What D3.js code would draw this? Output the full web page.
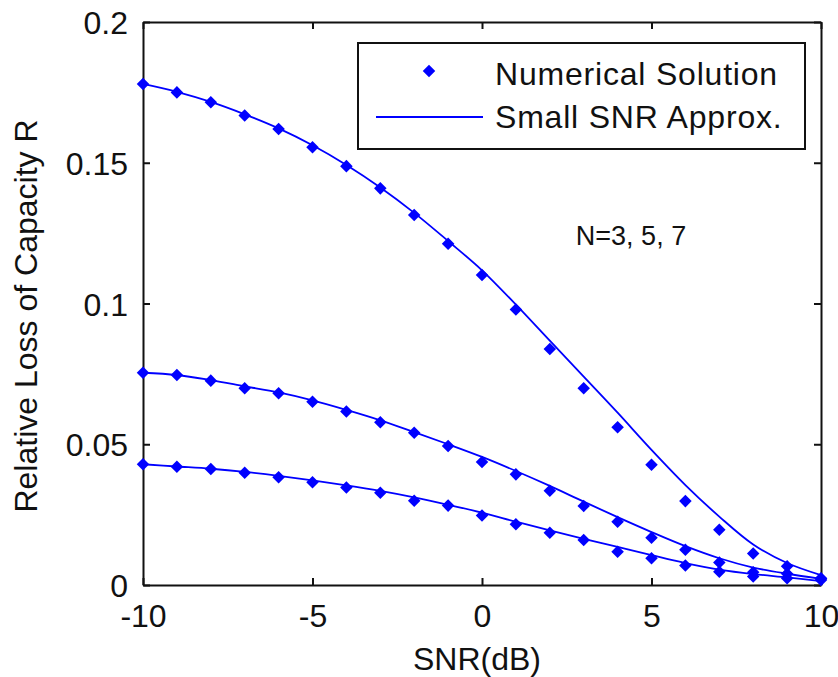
<!DOCTYPE html>
<html>
<head>
<meta charset="utf-8">
<script src="https://cdn.jsdelivr.net/npm/d3@7"></script>
<style>
  html, body { margin: 0; padding: 0; background: #fff; }
  svg { display: block; }
</style>
</head>
<body>
<svg id="chart" width="838" height="677"></svg>
<script>
// ---- data ----
const snr = [-10, -9, -8, -7, -6, -5, -4, -3, -2, -1, 0, 1, 2, 3, 4, 5, 6, 7, 8, 9, 10];

// Numerical solution (markers), N = 7, 5, 3 (top to bottom)
const numericalN7 = [0.178, 0.175, 0.1715, 0.1668, 0.162, 0.1555, 0.1488, 0.1409, 0.1314, 0.1212, 0.1101,
                     0.0979, 0.0838, 0.0699, 0.056, 0.0427, 0.0298, 0.0196, 0.0112, 0.0067, 0.0024];
const numericalN5 = [0.0754, 0.0746, 0.0726, 0.0699, 0.0681, 0.0651, 0.0616, 0.0578, 0.0541, 0.0494, 0.0437,
                     0.0393, 0.0335, 0.0281, 0.0225, 0.0168, 0.0125, 0.0080, 0.0045, 0.0040, 0.0022];
const numericalN3 = [0.0429, 0.042, 0.0412, 0.0399, 0.0383, 0.0365, 0.0346, 0.0328, 0.0299, 0.0282, 0.0247,
                     0.0216, 0.0186, 0.016, 0.0118, 0.0095, 0.0069, 0.0047, 0.003, 0.0024, 0.0018];

// Small SNR approximation (lines)
const approxN7 = [0.178, 0.1752, 0.1716, 0.1672, 0.1622, 0.1562, 0.1492, 0.1412, 0.1322, 0.1222, 0.1118,
                  0.0996, 0.0868, 0.074, 0.0612, 0.048, 0.0355, 0.0243, 0.0144, 0.0078, 0.0035];
const approxN5 = [0.0754, 0.0746, 0.0728, 0.0706, 0.0684, 0.0656, 0.0622, 0.0585, 0.0543, 0.05, 0.0455,
                  0.0405, 0.0352, 0.0296, 0.0241, 0.0188, 0.0138, 0.0095, 0.0062, 0.004, 0.0022];
const approxN3 = [0.0429, 0.0421, 0.0413, 0.0402, 0.0388, 0.0372, 0.0354, 0.0334, 0.0311, 0.0285, 0.0257,
                  0.0225, 0.0194, 0.0164, 0.0135, 0.0106, 0.0078, 0.0055, 0.0039, 0.0027, 0.0014];

const xTicks = [-10, -5, 0, 5, 10];
const yTicks = [0, 0.05, 0.1, 0.15, 0.2];
const legendLabels = ["Numerical Solution", "Small SNR Approx."];
const annotation = "N=3, 5, 7";
const xLabel = "SNR(dB)";
const yLabel = "Relative Loss of Capacity R";

// ---- layout ----
const plotL = 143, plotR = 821, plotT = 22, plotB = 585;
const blue = "#0000FF";
const FONT = '"Liberation Sans", Arial, sans-serif';

const svg = d3.select("#chart");
const x = d3.scaleLinear().domain([-10, 10]).range([plotL, plotR]);
const y = d3.scaleLinear().domain([0, 0.2]).range([plotB, plotT]);

// axes
const fmtY = d => d3.format("~g")(d);
const fmtX = d => String(d);

function styleAxis(g) {
  g.select(".domain").attr("stroke", "#111").attr("stroke-width", 2);
  g.selectAll(".tick line").attr("stroke", "#111").attr("stroke-width", 2);
  g.selectAll("text").style("font-size", "32px").style("fill", "#111").style("font-family", FONT);
}

svg.append("g").attr("transform", `translate(0,${plotB})`)
  .call(d3.axisBottom(x).tickValues(xTicks).tickFormat(fmtX).tickSize(-7).tickSizeOuter(0).tickPadding(19))
  .call(styleAxis);
svg.append("g").attr("transform", `translate(0,${plotT})`)
  .call(d3.axisTop(x).tickValues(xTicks).tickFormat("").tickSize(-7).tickSizeOuter(0))
  .call(styleAxis);
svg.append("g").attr("transform", `translate(${plotL},0)`)
  .call(d3.axisLeft(y).tickValues(yTicks).tickFormat(fmtY).tickSize(-7).tickSizeOuter(0).tickPadding(15))
  .call(styleAxis)
  .call(g => g.selectAll("text").attr("dy", "0.36em"));
svg.append("g").attr("transform", `translate(${plotR},0)`)
  .call(d3.axisRight(y).tickValues(yTicks).tickFormat("").tickSize(-7).tickSizeOuter(0))
  .call(styleAxis);

function txt(sel) { return sel.style("font-family", FONT).style("fill", "#111"); }

// axis labels
svg.append("text").attr("x", 477).attr("y", 670).attr("text-anchor", "middle")
  .style("font-size", "32px").call(txt).text(xLabel);
svg.append("text").attr("transform", `translate(37,316) rotate(-90)`).attr("text-anchor", "middle")
  .style("font-size", "32px").call(txt).text(yLabel);

// lines
const line = d3.line().x((d, i) => x(snr[i])).y(d => y(d)).curve(d3.curveCatmullRom);
const plot = svg.append("g");
[approxN7, approxN5, approxN3].forEach(s => {
  plot.append("path").attr("d", line(s)).attr("fill", "none")
    .attr("stroke", blue).attr("stroke-width", 1.8);
});

// markers
const sym = d3.symbol().type(d3.symbolDiamond2).size(100);
[numericalN7, numericalN5, numericalN3].forEach(s => {
  plot.selectAll(null).data(s).enter().append("path")
    .attr("d", sym)
    .attr("transform", (d, i) => `translate(${x(snr[i])},${y(d)})`)
    .attr("fill", blue);
});

// annotation
svg.append("text").attr("x", 631).attr("y", 245).attr("text-anchor", "middle")
  .style("font-size", "27px").call(txt).text(annotation);

// legend
const lg = svg.append("g");
lg.append("rect").attr("x", 358).attr("y", 43).attr("width", 447).attr("height", 106)
  .attr("fill", "#fff").attr("stroke", "#111").attr("stroke-width", 2);
lg.append("path").attr("d", sym).attr("transform", "translate(429,71)").attr("fill", blue);
lg.append("line").attr("x1", 376).attr("x2", 483).attr("y1", 117).attr("y2", 117)
  .attr("stroke", blue).attr("stroke-width", 1.8);
lg.append("text").attr("x", 495).attr("y", 85).style("font-size", "32px").style("letter-spacing", "0.8px")
  .call(txt).text(legendLabels[0]);
lg.append("text").attr("x", 495).attr("y", 128).style("font-size", "32px").style("letter-spacing", "0.8px")
  .call(txt).text(legendLabels[1]);
</script>
</body>
</html>
